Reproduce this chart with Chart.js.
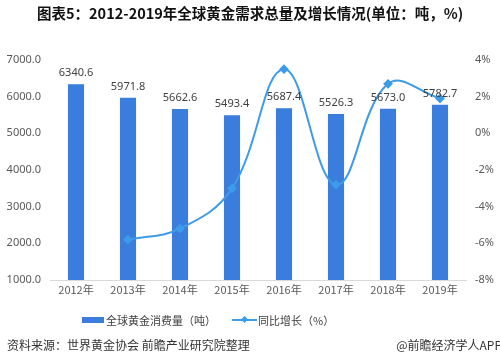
<!DOCTYPE html>
<html>
<head>
<meta charset="utf-8">
<script src="https://cdn.jsdelivr.net/npm/chart.js@4"></script>
<style>
  html, body { margin: 0; padding: 0; background: #fff; }
  #wrap { position: relative; width: 500px; height: 364px; font-family: "Noto Sans CJK SC", "Noto Sans", sans-serif; }
  canvas { position: absolute; left: 0; top: 0; }
  #title { position: absolute; left: 37px; top: 4px; text-align: left; font-size: 14.5px; font-weight: bold; color: #111; white-space: nowrap; line-height: 18px; }
  #legend { position: absolute; left: 0; width: 500px; top: 311px; height: 18px; font-size: 11px; color: #404040; }
  .lg { position: absolute; top: 0; line-height: 18px; white-space: nowrap; }
  .sw-bar { position: absolute; width: 22px; height: 6px; background: #3a7ddc; top: 6px; }
  .sw-line { position: absolute; width: 25px; height: 2px; background: #3d9be9; top: 8px; }
  .sw-dot { position: absolute; width: 5px; height: 5px; background: #3d9be9; transform: rotate(45deg); top: 6px; }
  #src { position: absolute; left: 7px; top: 336px; font-size: 12px; color: #333; white-space: nowrap; }
  #app { position: absolute; right: -2px; top: 336px; font-size: 12px; color: #333; white-space: nowrap; }
</style>
</head>
<body>
<div id="wrap">
  <canvas id="c" width="500" height="364"></canvas>
  <div id="title">图表5：2012-2019年全球黄金需求总量及增长情况(单位：吨，%)</div>
  <div id="legend">
    <div class="sw-bar" style="left:82px"></div>
    <div class="lg" style="left:106px">全球黄金消费量（吨）</div>
    <div class="sw-line" style="left:232px"></div>
    <div class="sw-dot" style="left:242px"></div>
    <div class="lg" style="left:258px">同比增长（%）</div>
  </div>
  <div id="src">资料来源：世界黄金协会 前瞻产业研究院整理</div>
  <div id="app">@前瞻经济学人APP</div>
</div>
<script>
const years = ["2012年", "2013年", "2014年", "2015年", "2016年", "2017年", "2018年", "2019年"];
const consumption = [6340.6, 5971.8, 5662.6, 5493.4, 5687.4, 5526.3, 5673.0, 5782.7];
const growth = [null, -5.8, -5.2, -3.0, 3.5, -2.8, 2.7, 1.9];

const barLabels = {
  id: 'barLabels',
  afterDatasetsDraw(chart) {
    const ctx = chart.ctx;
    const meta = chart.getDatasetMeta(1);
    ctx.save();
    ctx.font = '11px "Noto Sans", "DejaVu Sans", sans-serif';
    ctx.fillStyle = '#404040';
    ctx.textAlign = 'center';
    ctx.textBaseline = 'middle';
    meta.data.forEach((el, i) => {
      ctx.fillText(consumption[i].toFixed(1), el.x, el.y - 11);
    });
    ctx.restore();
  }
};

new Chart(document.getElementById('c'), {
  data: {
    labels: years,
    datasets: [
      {
        type: 'line',
        label: '同比增长（%）',
        data: growth,
        yAxisID: 'y1',
        borderColor: '#3d9be9',
        backgroundColor: '#3d9be9',
        borderWidth: 2,
        tension: 0.4,
        pointStyle: 'rectRot',
        pointRadius: 3.5,
        pointHoverRadius: 3.5,
        order: 0
      },
      {
        type: 'bar',
        label: '全球黄金消费量（吨）',
        data: consumption,
        yAxisID: 'y',
        backgroundColor: '#3a7ddc',
        barPercentage: 0.62,
        categoryPercentage: 0.5,
        order: 1
      }
    ]
  },
  options: {
    responsive: false,
    animation: false,
    layout: { padding: { left: 0, right: 0, top: 60, bottom: 54 } },
    plugins: {
      legend: { display: false },
      tooltip: { enabled: false },
      title: { display: false }
    },
    scales: {
      x: {
        grid: { display: false, drawTicks: false },
        border: { display: true, color: '#d9d9d9' },
        ticks: { color: '#595959', font: { size: 11, family: '"Noto Sans CJK SC", sans-serif' }, padding: 3, maxRotation: 0 },
        afterFit(s) { s.height = 30; }
      },
      y: {
        position: 'left',
        min: 1000, max: 7000,
        grid: { display: false, drawTicks: false },
        border: { display: false },
        ticks: { stepSize: 1000, color: '#595959', font: { size: 11, family: '"Noto Sans", sans-serif' }, padding: 9,
                 callback: v => v.toFixed(1) },
        afterFit(s) { s.width = 50; }
      },
      y1: {
        position: 'right',
        min: -8, max: 4,
        grid: { display: false, drawTicks: false },
        border: { display: false },
        ticks: { stepSize: 2, color: '#595959', font: { size: 11, family: '"Noto Sans", sans-serif' }, padding: 9,
                 callback: v => v + '%' },
        afterFit(s) { s.width = 34; }
      }
    }
  },
  plugins: [barLabels]
});
</script>
</body>
</html>
